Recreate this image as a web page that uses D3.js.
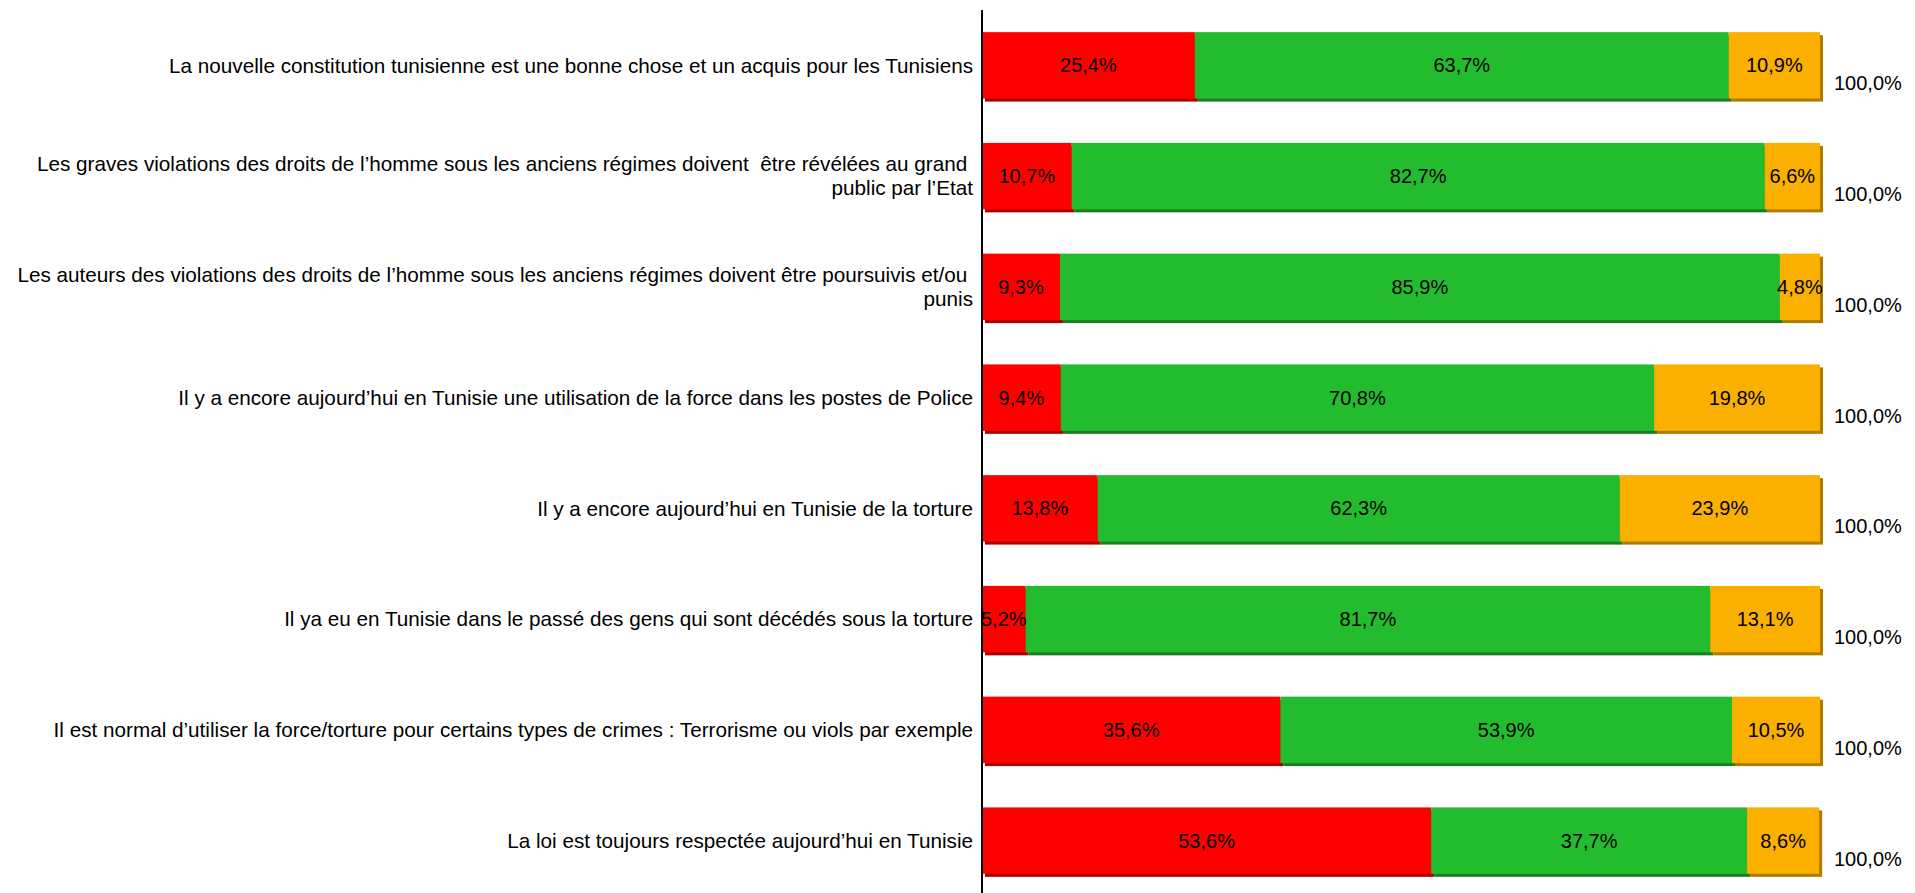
<!DOCTYPE html>
<html><head><meta charset="utf-8">
<script src="https://cdn.jsdelivr.net/npm/d3@7"></script>
<style>
html,body{margin:0;padding:0;background:#fff;}
svg{display:block;}
text{font-family:"Liberation Sans",Arial,sans-serif;}
</style></head>
<body>
<svg id="chart" width="1915" height="893"></svg>
<script>
const categories = [
  ["La nouvelle constitution tunisienne est une bonne chose et un acquis pour les Tunisiens"],
  ["Les graves violations des droits de l\u2019homme sous les anciens régimes doivent  être révélées au grand ", "public par l\u2019Etat"],
  ["Les auteurs des violations des droits de l\u2019homme sous les anciens régimes doivent être poursuivis et/ou ", "punis"],
  ["Il y a encore aujourd\u2019hui en Tunisie une utilisation de la force dans les postes de Police"],
  ["Il y a encore aujourd\u2019hui en Tunisie de la torture"],
  ["Il ya eu en Tunisie dans le passé des gens qui sont décédés sous la torture"],
  ["Il est normal d\u2019utiliser la force/torture pour certains types de crimes : Terrorisme ou viols par exemple"],
  ["La loi est toujours respectée aujourd\u2019hui en Tunisie"]
];
const seriesRed    = [25.4, 10.7, 9.3, 9.4, 13.8, 5.2, 35.6, 53.6];
const seriesGreen  = [63.7, 82.7, 85.9, 70.8, 62.3, 81.7, 53.9, 37.7];
const seriesOrange = [10.9, 6.6, 4.8, 19.8, 23.9, 13.1, 10.5, 8.6];
const totals       = [100.0, 100.0, 100.0, 100.0, 100.0, 100.0, 100.0, 100.0];

const keys = ["red","green","orange"];
const colors = {red:"#ff0000", green:"#24bc2f", orange:"#fbb000"};
const shadows = {red:"#b00000", green:"#1b7f22", orange:"#b07c00"};

const rows = categories.map((c,i)=>({id:i, red:seriesRed[i], green:seriesGreen[i], orange:seriesOrange[i], total:totals[i]}));
const stack = d3.stack().keys(keys)(rows);

const svg = d3.select("#chart");
const x = d3.scaleLinear().domain([0,100]).range([982,1820]);
const y = d3.scaleBand().domain(rows.map(r=>r.id)).range([10,896]).paddingInner(0.4).paddingOuter(0.2);

const fmt = v => d3.format(".1f")(v).replace(".", ",") + "%";

// shadows
const gs = svg.append("g");
stack.forEach(s=>{
  gs.selectAll(null).data(s).join("rect")
    .attr("x", d=>x(d[0])+3).attr("y", d=>y(d.data.id)+3)
    .attr("width", d=>x(d[1])-x(d[0])).attr("height", y.bandwidth())
    .attr("fill", shadows[s.key]);
});
const gm = svg.append("g");
stack.forEach(s=>{
  gm.selectAll(null).data(s).join("rect")
    .attr("x", d=>x(d[0])).attr("y", d=>y(d.data.id))
    .attr("width", d=>x(d[1])-x(d[0])).attr("height", y.bandwidth())
    .attr("fill", colors[s.key]);
});
// value labels
stack.forEach(s=>{
  gm.selectAll(null).data(s).join("text")
    .attr("x", d=>(x(d[0])+x(d[1]))/2).attr("y", d=>y(d.data.id)+y.bandwidth()/2)
    .attr("dy","0.35em").attr("text-anchor","middle")
    .attr("font-size", 20).attr("fill","#000")
    .text(d=>fmt(d[1]-d[0]));
});
// totals
svg.append("g").selectAll("text").data(rows).join("text")
  .attr("x", x(100)+14).attr("y", d=>y(d.id)+y.bandwidth()/2+18)
  .attr("dy","0.35em").attr("font-size",20).attr("fill","#000")
  .text(d=>fmt(d.total));

// axis
const axis = d3.axisLeft(y).tickSize(0).tickFormat("");
const ax = svg.append("g").attr("transform", `translate(${x(0)},0)`).call(axis);
ax.select(".domain").remove();
svg.append("line").attr("x1",x(0)).attr("x2",x(0)).attr("y1",10).attr("y2",893)
  .attr("stroke","#000").attr("stroke-width",2);

// category labels
const lg = svg.append("g");
rows.forEach((r,i)=>{
  const lines = categories[i];
  const cy = y(r.id)+y.bandwidth()/2;
  const lh = 24;
  lines.forEach((ln,j)=>{
    lg.append("text").attr("x", x(0)-9)
      .attr("y", cy + (j-(lines.length-1)/2)*lh)
      .attr("dy","0.35em").attr("text-anchor","end")
      .attr("font-size",20.7).attr("fill","#000")
      .style("white-space","pre")
      .text(ln);
  });
});
</script>
</body></html>
